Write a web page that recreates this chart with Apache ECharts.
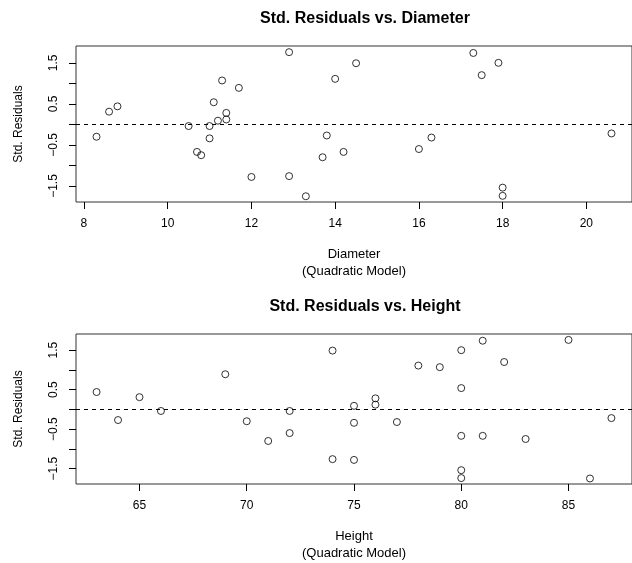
<!DOCTYPE html>
<html>
<head>
<meta charset="utf-8">
<script src="https://cdn.jsdelivr.net/npm/echarts@6/dist/echarts.min.js"></script>
<style>
  html, body { margin: 0; padding: 0; background: #fff; }
  #main { width: 632px; height: 563px; }
</style>
</head>
<body>
<div id="main"></div>
<script>
// trees data, same order in all three arrays
var diameter = [8.3, 8.6, 8.8, 10.5, 10.7, 10.8, 11.0, 11.0, 11.1, 11.2, 11.3, 11.4, 11.4, 11.7, 12.0,
    12.9, 12.9, 13.3, 13.7, 13.8, 14.0, 14.2, 14.5, 16.0, 16.3, 17.3, 17.5, 17.9, 18.0, 18.0, 20.6];
var height = [70, 65, 63, 72, 81, 83, 66, 75, 80, 75, 79, 76, 76, 69, 75,
    74, 85, 86, 71, 64, 78, 80, 74, 72, 77, 81, 82, 80, 80, 80, 87];
var stdResid = [-0.30, 0.31, 0.44, -0.04, -0.67, -0.75, -0.04, -0.34, 0.54, 0.09, 1.07, 0.28, 0.12, 0.89, -1.28,
    -1.26, 1.76, -1.75, -0.80, -0.27, 1.11, -0.67, 1.49, -0.60, -0.32, 1.74, 1.20, 1.50, -1.54, -1.74, -0.22];

var diamTicks = [8, 10, 12, 14, 16, 18, 20];
var heightTicks = [65, 70, 75, 80, 85];
var residTicks = [-1.5, -1, -0.5, 0, 0.5, 1, 1.5];
var residLabels = [-1.5, -0.5, 0.5, 1.5];

var FONT = '"Liberation Sans", Arial, sans-serif';

function pairs(xs, ys) {
    return xs.map(function (x, i) { return [x, ys[i]]; });
}

function minus(v) {
    return String(v).replace('-', '\u2212');
}

function xAxisOf(idx, name, min, max, ticks) {
    return {
        type: 'value',
        gridIndex: idx,
        min: min,
        max: max,
        name: name + '\n(Quadratic Model)',
        nameLocation: 'middle',
        nameGap: 44,
        nameTextStyle: {fontFamily: FONT, fontSize: 13, color: '#000', lineHeight: 17},
        axisLine: {show: false, onZero: false},
        axisTick: {show: true, length: 7, customValues: ticks, lineStyle: {color: '#000'}},
        axisLabel: {customValues: ticks, margin: 16, fontFamily: FONT, fontSize: 12, color: '#000'},
        splitLine: {show: false}
    };
}

function yAxisOf(idx) {
    return {
        type: 'value',
        gridIndex: idx,
        min: -1.89,
        max: 1.91,
        name: 'Std. Residuals',
        nameLocation: 'middle',
        nameGap: 51,
        nameTextStyle: {fontFamily: FONT, fontSize: 12, color: '#000'},
        axisLine: {show: false, onZero: false},
        axisTick: {show: true, length: 7, customValues: residTicks, lineStyle: {color: '#000'}},
        axisLabel: {
            customValues: residLabels,
            rotate: 90,
            margin: 16,
            fontFamily: FONT, fontSize: 12, color: '#000',
            formatter: minus
        },
        splitLine: {show: false}
    };
}

function seriesOf(idx, xs) {
    return {
        type: 'scatter',
        xAxisIndex: idx,
        yAxisIndex: idx,
        data: pairs(xs, stdResid),
        symbol: 'circle',
        symbolSize: 7,
        itemStyle: {color: 'rgba(0,0,0,0)', borderColor: '#000', borderWidth: 1},
        silent: true,
        markLine: {
            silent: true,
            symbol: 'none',
            label: {show: false},
            lineStyle: {color: '#000', width: 1, type: [4, 4]},
            data: [{yAxis: 0}]
        }
    };
}

var chart = echarts.init(document.getElementById('main'));

chart.setOption({
    backgroundColor: '#fff',
    animation: false,
    title: [
        {
            text: 'Std. Residuals vs. Diameter',
            left: 360, top: 6, textAlign: 'center',
            textStyle: {fontFamily: FONT, fontSize: 16, fontWeight: 'bold', color: '#000'}
        },
        {
            text: 'Std. Residuals vs. Height',
            left: 360, top: 294, textAlign: 'center',
            textStyle: {fontFamily: FONT, fontSize: 16, fontWeight: 'bold', color: '#000'}
        }
    ],
    grid: [
        {left: 76, top: 46, width: 568, height: 156, show: true, borderColor: '#333', borderWidth: 1, backgroundColor: 'transparent'},
        {left: 76, top: 334, width: 568, height: 156, show: true, borderColor: '#333', borderWidth: 1, backgroundColor: 'transparent'}
    ],
    xAxis: [
        xAxisOf(0, 'Diameter', 7.81, 21.09, diamTicks),
        xAxisOf(1, 'Height', 62.04, 87.96, heightTicks)
    ],
    yAxis: [yAxisOf(0), yAxisOf(1)],
    series: [seriesOf(0, diameter), seriesOf(1, height)]
});
</script>
</body>
</html>
